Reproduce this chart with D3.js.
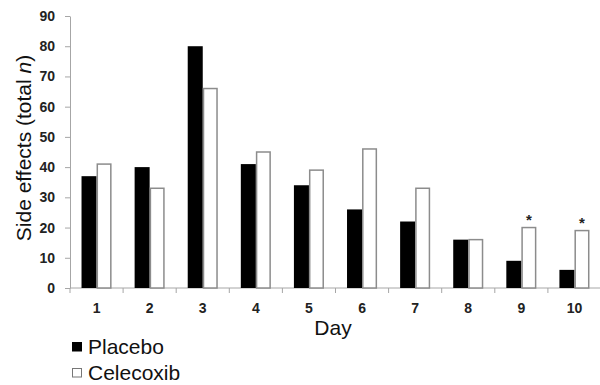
<!DOCTYPE html>
<html>
<head>
<meta charset="utf-8">
<script src="https://cdn.jsdelivr.net/npm/d3@7"></script>
<style>
  body { margin: 0; background: #fff; }
  svg { display: block; }
</style>
</head>
<body>
<div id="chart"></div>
<script>
const days = ["1", "2", "3", "4", "5", "6", "7", "8", "9", "10"];
const placebo = [37, 40, 80, 41, 34, 26, 22, 16, 9, 6];
const celecoxib = [41, 33, 66, 45, 39, 46, 33, 16, 20, 19];
const significant = ["9", "10"];
const yTicks = [0, 10, 20, 30, 40, 50, 60, 70, 80, 90];

const W = 600, H = 385;
const svg = d3.select("#chart").append("svg")
	.attr("width", W)
	.attr("height", H);

const x0 = d3.scaleBand()
	.domain(days)
	.range([70, 601])
	.paddingInner(0.434)
	.paddingOuter(0.217);
const x1 = d3.scaleBand()
	.domain(["placebo", "celecoxib"])
	.range([0, x0.bandwidth()]);
const y = d3.scaleLinear()
	.domain([0, 90])
	.range([288, 16]);

const axisColor = "#a6a6a6";

// y axis
const yAxis = svg.append("g")
	.attr("transform", "translate(70,0)")
	.call(d3.axisLeft(y).tickValues(yTicks).tickSize(5).tickSizeOuter(0));
yAxis.select(".domain").attr("stroke", axisColor);
yAxis.selectAll(".tick line").attr("stroke", axisColor);
yAxis.selectAll(".tick text")
	.attr("x", -15)
	.attr("fill", "#222")
	.style("font-family", "Liberation Sans, Arial, sans-serif")
	.style("font-weight", "bold")
	.style("font-size", "14px");

// x axis: ticks at band boundaries
const xAxis = svg.append("g").attr("transform", "translate(0,288)");
xAxis.append("line")
	.attr("x1", 70).attr("x2", 601)
	.attr("stroke", axisColor);
const step = x0.step();
const edges = days.map(d => x0(d) - x0.paddingInner() * step / 2).concat([601]);
xAxis.selectAll(".edge").data(edges).join("line")
	.attr("class", "edge")
	.attr("x1", d => d).attr("x2", d => d)
	.attr("y1", 0).attr("y2", 5)
	.attr("stroke", axisColor);
xAxis.selectAll(".lbl").data(days).join("text")
	.attr("class", "lbl")
	.attr("x", d => x0(d) + x0.bandwidth() / 2)
	.attr("y", 25)
	.attr("text-anchor", "middle")
	.attr("fill", "#222")
	.style("font-family", "Liberation Sans, Arial, sans-serif")
	.style("font-weight", "bold")
	.style("font-size", "14px")
	.text(d => d);

// bars
const groups = svg.selectAll(".day").data(days).join("g")
	.attr("class", "day")
	.attr("transform", d => `translate(${x0(d)},0)`);
groups.append("rect")
	.attr("x", x1("placebo"))
	.attr("y", (d, i) => y(placebo[i]))
	.attr("width", x1.bandwidth())
	.attr("height", (d, i) => y(0) - y(placebo[i]))
	.attr("fill", "#000");
groups.append("rect")
	.attr("x", x1("celecoxib") + 0.75)
	.attr("y", (d, i) => y(celecoxib[i]))
	.attr("width", x1.bandwidth() - 1.5)
	.attr("height", (d, i) => y(0) - y(celecoxib[i]))
	.attr("fill", "#fff")
	.attr("stroke", "#8c8c8c")
	.attr("stroke-width", 1.5);

// significance marks
groups.filter(d => significant.includes(d)).append("text")
	.attr("x", x1("celecoxib") + x1.bandwidth() / 2)
	.attr("y", d => y(celecoxib[days.indexOf(d)]) - 3)
	.attr("text-anchor", "middle")
	.attr("fill", "#222")
	.style("font-family", "Liberation Sans, Arial, sans-serif")
	.style("font-size", "15px")
	.style("font-weight", "bold")
	.text("*");

// axis titles
svg.append("text")
	.attr("x", 333)
	.attr("y", 335)
	.attr("text-anchor", "middle")
	.attr("fill", "#111")
	.style("font-family", "Liberation Sans, Arial, sans-serif")
	.style("font-size", "21px")
	.text("Day");

const yt = svg.append("text")
	.attr("transform", "translate(31,148) rotate(-90)")
	.attr("text-anchor", "middle")
	.attr("fill", "#111")
	.style("font-family", "Liberation Sans, Arial, sans-serif")
	.style("font-size", "21px");
yt.append("tspan").text("Side effects (total ");
yt.append("tspan").style("font-style", "italic").text("n");
yt.append("tspan").text(")");

// legend
const legend = svg.selectAll(".leg").data([
	{name: "Placebo", fill: "#000", stroke: "#000"},
	{name: "Celecoxib", fill: "#fff", stroke: "#777"}
]).join("g")
	.attr("class", "leg")
	.attr("transform", (d, i) => `translate(72,${342 + i * 26})`);
legend.append("rect")
	.attr("x", 0.5).attr("y", 0.5)
	.attr("width", 9).attr("height", 8.5)
	.attr("fill", d => d.fill)
	.attr("stroke", d => d.stroke);
legend.append("text")
	.attr("x", 16)
	.attr("y", 11.5)
	.attr("fill", "#111")
	.style("font-family", "Liberation Sans, Arial, sans-serif")
	.style("font-size", "21px")
	.text(d => d.name);
</script>
</body>
</html>
